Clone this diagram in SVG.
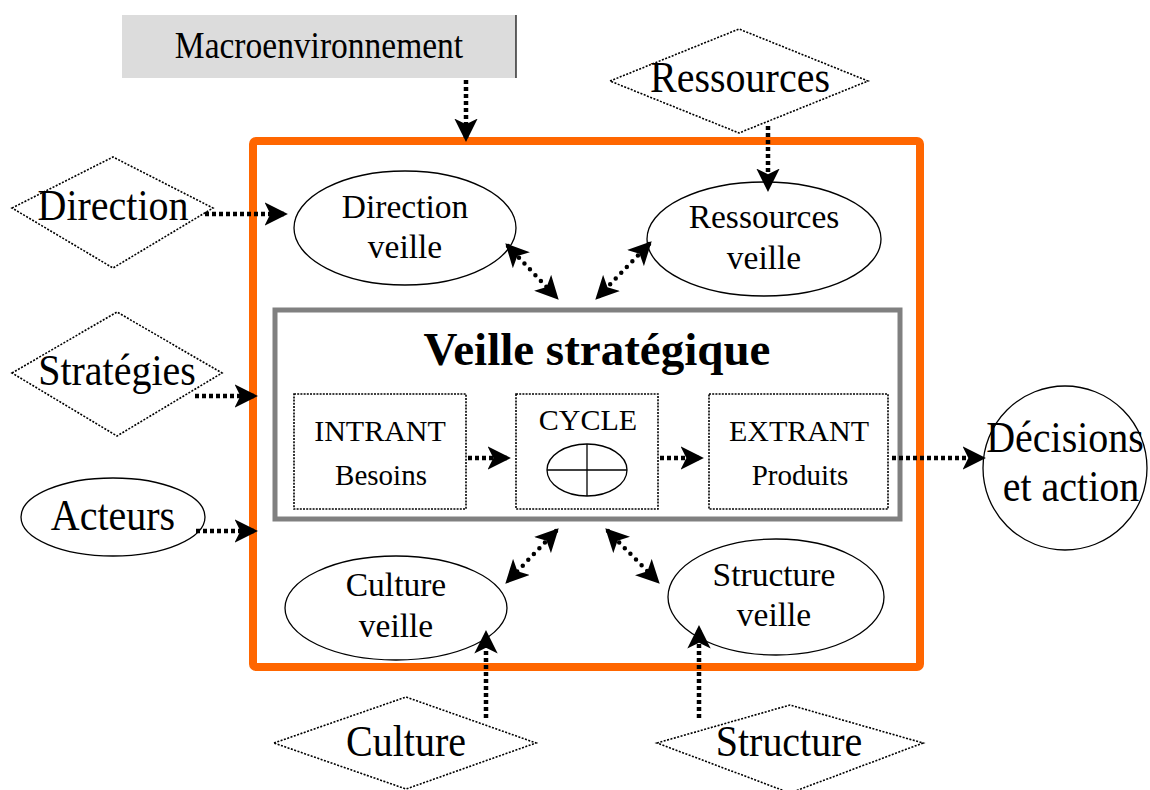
<svg xmlns="http://www.w3.org/2000/svg" width="1150" height="790" viewBox="0 0 1150 790">
<style>
text{font-family:"Liberation Serif","Times New Roman",serif;fill:#000;text-anchor:middle}
.dia{fill:#fff;stroke:#000;stroke-width:1.6;stroke-dasharray:2 1.5}
.ell{fill:#fff;stroke:#000;stroke-width:1.3}
.box{fill:#fff;stroke:#000;stroke-width:1.6;stroke-dasharray:2 1.2}
.c{fill:none;stroke:#000;stroke-width:4.5;stroke-dasharray:4 3}
.d{fill:none;stroke:#000;stroke-width:4.5;stroke-dasharray:0 8;stroke-linecap:round}
.big{font-size:40px}
.mid{font-size:33.5px}
.sm{font-size:30px}
.xs{font-size:29px}
</style>
<defs>
<marker id="ah" viewBox="0 0 12 12" refX="10" refY="6" markerWidth="5.2" markerHeight="5.2" orient="auto-start-reverse" markerUnits="strokeWidth">
<path d="M0,0 L12,6 L0,12 L3,6 z" fill="#000"/>
</marker>
</defs>

<g id="macro">
<rect x="122" y="15" width="394" height="63" fill="#dcdcdc"/>
<line x1="516" y1="15" x2="516" y2="78" stroke="#000" stroke-width="1.2"/>
<text class="mid" transform="translate(319,58) scale(1,1.1)">Macroenvironnement</text>
</g>

<g id="frame">
<rect x="253" y="141" width="667" height="526" rx="3" fill="none" stroke="#ff6600" stroke-width="8"/>
</g>

<g id="ressources">
<polygon class="dia" points="610,81 739,29 868,81 739,133"/>
<text class="big" transform="translate(740,92) scale(1,1.1)">Ressources</text>
</g>

<g id="direction">
<polygon class="dia" points="12,208 113,157 213,208 113,268"/>
<text class="big" transform="translate(113,220) scale(1,1.1)">Direction</text>
</g>

<g id="strategies">
<polygon class="dia" points="12,373 117,312 222,373 117,436"/>
<text class="big" transform="translate(117,385) scale(1,1.1)">Stratégies</text>
</g>

<g id="acteurs">
<ellipse class="ell" cx="113" cy="517" rx="92" ry="39"/>
<text class="big" transform="translate(113,530) scale(1,1.1)">Acteurs</text>
</g>

<g id="culture">
<polygon class="dia" points="274,743 406,697 536,743 406,789"/>
<text class="big" transform="translate(406,756) scale(1,1.1)">Culture</text>
</g>

<g id="structure">
<polygon class="dia" points="657,743 790,705 923,743 790,793"/>
<text class="big" transform="translate(789,756) scale(1,1.1)">Structure</text>
</g>

<g id="decisions">
<circle class="ell" cx="1065" cy="468" r="82"/>
<text class="big" transform="translate(1065,452) scale(1,1.1)">Décisions</text>
<text class="big" transform="translate(1071,501) scale(1,1.1)">et action</text>
</g>

<g id="direction-veille">
<ellipse class="ell" cx="405" cy="228" rx="111" ry="57"/>
<text class="mid" x="405" y="218">Direction</text>
<text class="mid" x="405" y="258">veille</text>
</g>

<g id="ressources-veille">
<ellipse class="ell" cx="764" cy="239" rx="117" ry="57"/>
<text class="mid" x="764" y="228">Ressources</text>
<text class="mid" x="764" y="269">veille</text>
</g>

<g id="culture-veille">
<ellipse class="ell" cx="396" cy="608" rx="111" ry="52"/>
<text class="mid" x="396" y="596">Culture</text>
<text class="mid" x="396" y="637">veille</text>
</g>

<g id="structure-veille">
<ellipse class="ell" cx="776" cy="597" rx="108" ry="58"/>
<text class="mid" x="774" y="586">Structure</text>
<text class="mid" x="774" y="626">veille</text>
</g>

<g id="veille">
<rect x="275" y="310" width="625" height="209" fill="#fff" stroke="#808080" stroke-width="5"/>
<text x="597" y="365" font-size="47" font-weight="bold">Veille stratégique</text>
</g>

<g id="intrant">
<rect class="box" x="294" y="394" width="172" height="115"/>
<text class="sm" x="380" y="441">INTRANT</text>
<text class="xs" x="381" y="485">Besoins</text>
</g>

<g id="cycle">
<rect class="box" x="516" y="394" width="142" height="115"/>
<text class="sm" x="588" y="430">CYCLE</text>
<ellipse cx="587" cy="470" rx="40" ry="26" fill="#fff" stroke="#000" stroke-width="1.3"/>
<line x1="547" y1="470" x2="627" y2="470" stroke="#000" stroke-width="1.3"/>
<line x1="587" y1="444" x2="587" y2="496" stroke="#000" stroke-width="1.3"/>
</g>

<g id="extrant">
<rect class="box" x="709" y="394" width="179" height="115"/>
<text class="sm" x="799" y="441">EXTRANT</text>
<text class="xs" x="800" y="485">Produits</text>
</g>

<g id="connectors">
<line class="c" x1="466" y1="80" x2="466" y2="138" marker-end="url(#ah)"/>
<line class="c" x1="768" y1="126" x2="768" y2="188" marker-end="url(#ah)"/>
<line class="c" x1="205" y1="214" x2="284" y2="214" marker-end="url(#ah)"/>
<line class="c" x1="195" y1="396" x2="254" y2="396" marker-end="url(#ah)"/>
<line class="c" x1="196" y1="531" x2="254" y2="531" marker-end="url(#ah)"/>
<line class="c" x1="468" y1="458" x2="507" y2="458" marker-end="url(#ah)"/>
<line class="c" x1="660" y1="458" x2="700" y2="458" marker-end="url(#ah)"/>
<line class="c" x1="892" y1="458" x2="982" y2="458" marker-end="url(#ah)"/>
<line class="c" x1="486" y1="718" x2="486" y2="634" marker-end="url(#ah)"/>
<line class="c" x1="699" y1="718" x2="699" y2="629" marker-end="url(#ah)"/>
<line class="d" x1="508" y1="246" x2="556" y2="297" marker-start="url(#ah)" marker-end="url(#ah)"/>
<line class="d" x1="649" y1="244" x2="598" y2="297" marker-start="url(#ah)" marker-end="url(#ah)"/>
<line class="d" x1="556" y1="531" x2="508" y2="581" marker-start="url(#ah)" marker-end="url(#ah)"/>
<line class="d" x1="608" y1="531" x2="657" y2="581" marker-start="url(#ah)" marker-end="url(#ah)"/>
</g>
</svg>
